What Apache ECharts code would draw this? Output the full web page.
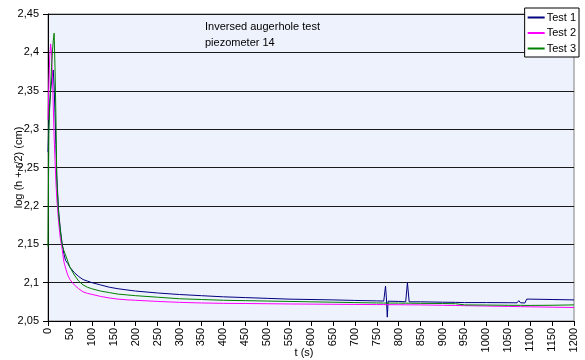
<!DOCTYPE html>
<html>
<head>
<meta charset="utf-8">
<title>Inversed augerhole test</title>
<script src="https://cdn.jsdelivr.net/npm/echarts@6/dist/echarts.min.js"></script>
<style>
    html, body { margin: 0; padding: 0; background: #fff; }
    #chart { width: 585px; height: 360px; }
</style>
</head>
<body>
<div id="chart"></div>
<script>
// time (s), shared by the three tests
var seconds = [0, 2, 4, 6, 8, 10, 12, 14, 16, 18,
    20, 24, 28, 32, 36, 40, 45, 50, 60, 70,
    80, 90, 100, 120, 140, 160, 180, 200, 250, 300,
    350, 400, 450, 500, 550, 600, 650, 700, 750, 766,
    770, 772, 774, 776, 800, 816, 820, 824, 850, 900,
    930, 934, 950, 1000, 1050, 1070, 1074, 1078, 1088, 1092,
    1100, 1150, 1200];

// log (h + r/2)
var test1 = [2.27, 2.31, 2.335, 2.35, 2.362, 2.372, 2.377, 2.355, 2.32, 2.28,
    2.24, 2.195, 2.17, 2.152, 2.138, 2.129, 2.125, 2.12, 2.113, 2.108,
    2.104, 2.102, 2.1, 2.097, 2.094, 2.092, 2.0905, 2.089, 2.0865, 2.0845,
    2.083, 2.0815, 2.0805, 2.0795, 2.0785, 2.078, 2.0775, 2.0768, 2.0762, 2.076,
    2.0955, 2.08, 2.055, 2.0758, 2.0755, 2.075, 2.1, 2.075, 2.075, 2.0745,
    2.0743, 2.0742, 2.074, 2.074, 2.0738, 2.0737, 2.0765, 2.0737, 2.0735, 2.0785,
    2.0785, 2.078, 2.0775];

var test2 = [2.312, 2.36, 2.395, 2.411, 2.40, 2.37, 2.33, 2.29, 2.26, 2.232,
    2.21, 2.18, 2.158, 2.145, 2.128, 2.119, 2.11, 2.104, 2.097, 2.092,
    2.088, 2.086, 2.0847, 2.082, 2.08, 2.0785, 2.0776, 2.077, 2.0755, 2.0743,
    2.0735, 2.073, 2.0728, 2.0725, 2.0722, 2.072, 2.0718, 2.0716, 2.0714, 2.0714,
    2.0713, 2.0713, 2.0713, 2.0713, 2.0712, 2.0711, 2.0711, 2.0711, 2.071, 2.0705,
    2.0702, 2.0702, 2.07, 2.0695, 2.069, 2.0688, 2.0688, 2.0687, 2.0686, 2.0686,
    2.0685, 2.068, 2.0676];

var test3 = [2.147, 2.30, 2.33, 2.355, 2.38, 2.40, 2.415, 2.425, 2.38, 2.32,
    2.235, 2.19, 2.168, 2.15, 2.142, 2.136, 2.128, 2.12, 2.11, 2.102,
    2.097, 2.094, 2.092, 2.089, 2.087, 2.085, 2.084, 2.083, 2.081, 2.079,
    2.078, 2.077, 2.0765, 2.076, 2.0755, 2.075, 2.0745, 2.074, 2.0735, 2.0734,
    2.0734, 2.0734, 2.0734, 2.0734, 2.0733, 2.0732, 2.0732, 2.0732, 2.073, 2.0728,
    2.0725, 2.0712, 2.071, 2.0708, 2.0705, 2.0704, 2.0704, 2.0704, 2.0703, 2.0703,
    2.0703, 2.0705, 2.071];

var seriesNames = ['Test 1', 'Test 2', 'Test 3'];
var seriesColors = ['#000080', '#ff00ff', '#008000'];

function pairs(values) {
    return seconds.map(function (t, i) {
        return [t, values[i]];
    });
}

// 2.45 -> "2,45"
function commaNumber(v) {
    return String(+v.toFixed(2)).replace('.', ',');
}

var myChart = echarts.init(document.getElementById('chart'));
var font = 'Liberation Sans, Arial, sans-serif';

var option = {
    animation: false,
    textStyle: { fontFamily: font },
    title: {
        text: 'Inversed augerhole test\npiezometer 14',
        left: 205,
        top: 19,
        padding: 0,
        textStyle: { fontSize: 11, fontWeight: 'normal', color: '#000', lineHeight: 16, fontFamily: font }
    },
    legend: {
        orient: 'vertical',
        right: 6,
        top: 8,
        data: seriesNames,
        icon: 'rect',
        backgroundColor: '#fff',
        borderColor: '#000',
        borderWidth: 1,
        borderRadius: 0,
        padding: [3, 3, 2, 3],
        itemWidth: 17,
        itemHeight: 2,
        itemGap: 2.5,
        textStyle: { fontSize: 11, color: '#000', fontFamily: font, lineHeight: 13, padding: [0, 0, 0, -3] }
    },
    grid: {
        left: 48,
        right: 11,
        top: 14,
        bottom: 39,
        containLabel: false,
        outerBoundsMode: 'none',
        show: true,
        backgroundColor: '#eef2fd',
        borderColor: '#808080',
        borderWidth: 1
    },
    xAxis: {
        type: 'value',
        min: 0,
        max: 1200,
        interval: 50,
        name: 't (s)',
        nameLocation: 'middle',
        nameGap: 26,
        nameMoveOverlap: false,
        nameTextStyle: { fontSize: 11, color: '#000', padding: [0, 14, 0, 0] },
        axisLine: { show: true, lineStyle: { color: '#000' } },
        axisTick: { show: true, length: 5, lineStyle: { color: '#000' } },
        axisLabel: { rotate: 90, margin: 7, fontSize: 11, color: '#000', formatter: function (v) { return String(v); } },
        splitLine: { show: false }
    },
    yAxis: {
        type: 'value',
        min: 2.05,
        max: 2.45,
        interval: 0.05,
        name: 'log (h + r/2) (cm)',
        nameLocation: 'middle',
        nameGap: 24,
        nameMoveOverlap: false,
        nameTextStyle: { fontSize: 11, color: '#000' },
        axisLine: { show: true, lineStyle: { color: '#000' } },
        axisTick: { show: true, length: 5, lineStyle: { color: '#000' } },
        axisLabel: { margin: 9, fontSize: 11, color: '#000', formatter: commaNumber },
        splitLine: { show: true, lineStyle: { color: '#1a1a1a', width: 1 } }
    },
    series: [test1, test2, test3].map(function (values, i) {
        return {
            name: seriesNames[i],
            type: 'line',
            symbol: 'none',
            data: pairs(values),
            color: seriesColors[i],
            lineStyle: { width: 1, color: seriesColors[i] }
        };
    })
};

myChart.setOption(option);
</script>
</body>
</html>
